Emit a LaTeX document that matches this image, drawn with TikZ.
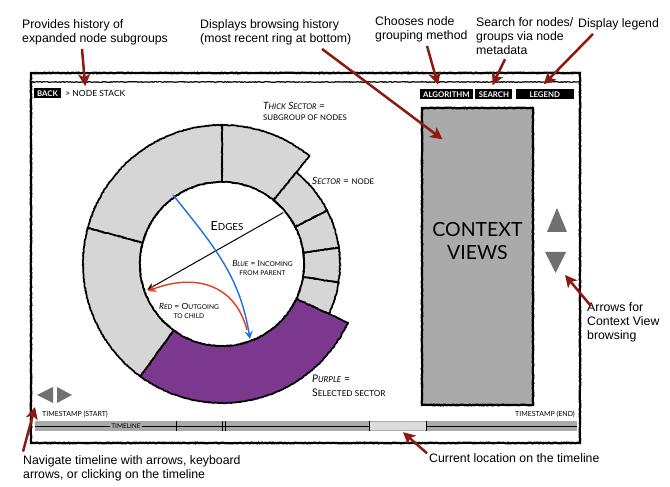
\documentclass[tikz,border=0pt]{standalone}
\usepackage{fontspec}
\setmainfont{Lato}
\newfontfamily\notefont{Liberation Sans}
\usetikzlibrary{positioning}
\usetikzlibrary{arrows.meta}
\usetikzlibrary{calc}
\usetikzlibrary{decorations.pathmorphing}
\definecolor{notered}{RGB}{139,26,18}
\definecolor{sectorgray}{RGB}{214,214,214}
\definecolor{selpurple}{RGB}{124,56,142}
\definecolor{viewgray}{RGB}{170,170,170}
\definecolor{navgray}{RGB}{112,112,112}
\definecolor{edgeblue}{RGB}{32,112,222}
\definecolor{edgered}{RGB}{232,58,30}
\definecolor{nowgray}{RGB}{220,220,220}
\newcommand{\sm}[1]{\scalebox{0.78}{#1}}

\begin{document}
\begin{tikzpicture}[x=1pt, y=1pt,
			rough/.style={decorate, decoration={random steps, segment length=1.2pt, amplitude=0.4pt}},
			frame/.style={draw, line width=2.2pt, rough},
			sector/.style={draw, line width=1.7pt, rough},
			note/.style={font=\notefont\fontsize{12.3}{14}\selectfont, align=left, inner sep=0pt, anchor=west},
			pointer/.style={->, >={Stealth[length=12pt, width=12pt, inset=3pt]}, draw=notered, line width=2.5pt},
			ringtext/.style={font=\fontsize{10}{11}\selectfont, inner sep=0pt},
			button/.style={fill=black, text=white, font=\bfseries\fontsize{7.8}{8}\selectfont, inner sep=1pt, minimum height=10pt}]
			\useasboundingbox (0,0) rectangle (670,487);
			
			\draw[frame] (31,44) rectangle (580,414);
			\draw[frame, line width=1.2pt] (31,405) -- (580,405);
			
			\node[button, minimum width=27pt](back) at (47.5,393.5) {BACK};
			\node[ringtext, font=\fontsize{8.5}{9}\selectfont, right=4pt of back](stack) {> NODE STACK};
			\node[button, minimum width=53pt](algo) at (446.5,392.5) {ALGORITHM};
			\node[button, minimum width=37pt, right=2pt of algo](search) {SEARCH};
			\node[button, minimum width=58pt, right=3pt of search](legend) {LEGEND};
			
			\draw[frame, fill=viewgray] (422,82) rectangle (533,379);
			\node[font=\fontsize{19.5}{23}\selectfont, align=center](views) at (477.5,245.5) {CONTEXT\\VIEWS};
			\fill[navgray] (547,255) -- (567,255) -- (557,279) -- cycle;
			\fill[navgray] (545,235) -- (566,235) -- (555.5,214) -- cycle;
			\coordinate (downtip) at (565,212);
			
			\coordinate (c) at (222,223);
			\foreach \a/\b/\r/\col in {51/90/139/sectorgray, 90/165/139/sectorgray, 165/234/139/sectorgray, 234/335/139/selpurple,
					335/351/118/sectorgray, 351/368/118/sectorgray, 368/387/118/sectorgray, 387/411/118/sectorgray}
				\filldraw[sector, fill=\col] ($(c)+(\a:82)$) arc[start angle=\a, end angle=\b, radius=82]
					-- ($(c)+(\b:\r)$) arc[start angle=\b, end angle=\a, radius=\r] -- cycle;
			\draw[sector, fill=white] (c) circle[radius=82];
			
			\node[ringtext, font=\fontsize{12.5}{14}\selectfont](edges) at (227,261) {E\sm{DGES}};
			\node[ringtext, align=left, anchor=west](thick) at (263,376) {\textit{T\sm{HICK} S\sm{ECTOR} =}\\\sm{SUBGROUP OF NODES}};
			\node[ringtext, anchor=west](single) at (312,306) {\textit{S\sm{ECTOR}} = \sm{NODE}};
			\node[ringtext, font=\fontsize{8.5}{9}\selectfont, align=center](bluetext) at (262.5,219) {\textit{B\sm{LUE}} = I\sm{NCOMING}\\\sm{FROM PARENT}};
			\node[ringtext, font=\fontsize{8.5}{9}\selectfont, align=center](redtext) at (189,176.5) {\textit{R\sm{ED}} = O\sm{UTGOING}\\\sm{TO CHILD}};
			\node[ringtext, font=\fontsize{10.5}{14}\selectfont, align=left, anchor=west](purpletext) at (312,101) {\textit{P\sm{URPLE}} =\\S\sm{ELECTED SECTOR}};
			
			\coordinate (e1) at ($(c)+(40:80)$);
			\coordinate (e2) at ($(c)+(199:79)$);
			\coordinate (b1) at (173,292);
			\coordinate (b2) at (250,148);
			\coordinate (r1) at (247,157);
			\coordinate (r2) at (148,196);
			\draw[line width=1pt, -{Stealth[length=7pt, width=7pt]}] (e1) -- (e2);
			\draw[edgeblue, line width=1.4pt, -{Stealth[length=8pt, width=8pt, inset=3pt]}] (b1) .. controls (215,240) and (240,210) .. (b2);
			\draw[edgered, line width=1.4pt, -{Stealth[length=8pt, width=8pt, inset=3pt]}] (r1) .. controls (235,203) and (195,214) .. (r2);
			
			\fill[navgray] (37,92) -- (53,100) -- (53,84) -- cycle;
			\fill[navgray] (57,100) -- (57,84) -- (72,92) -- cycle;
			\coordinate (navtip) at (35,80);
			
			\node[ringtext, font=\fontsize{7}{7}\selectfont, anchor=west](start) at (42,73) {TIMESTAMP (START)};
			\node[ringtext, font=\fontsize{7}{7}\selectfont, anchor=east](end) at (575,73) {TIMESTAMP (END)};
			\fill[viewgray] (35,56) rectangle (577,66);
			\node[fill=nowgray, minimum width=57pt, minimum height=8pt, inner sep=0pt](now) at (397.5,61) {};
			\node[fill=viewgray, inner sep=1pt, font=\fontsize{6.5}{7}\selectfont](tl) at (126,61) {TIMELINE};
			\draw[line width=0.9pt] (35,61) -- (tl.west) (tl.east) -- (now.west) (now.east) -- (577,61);
			\foreach \x in {176,222,225,369,426}
				\draw[line width=1pt] (\x,56) -- (\x,66);
			
			\node[note](provides) at (22,455) {Provides history of\\expanded node subgroups};
			\node[note](displays) at (200,455) {Displays browsing history\\(most recent ring at bottom)};
			\node[note](chooses) at (375,458) {Chooses node\\grouping method};
			\node[note](searchnote) at (476,450.5) {Search for nodes/\\groups via node\\metadata};
			\node[note](legendnote) at (578,463) {Display legend};
			\node[note](arrowsnote) at (587,165) {Arrows for\\Context View\\browsing};
			\node[note](current) at (429,29) {Current location on the timeline};
			\node[note](navigate) at (23,18.5) {Navigate timeline with arrows, keyboard\\arrows, or clicking on the timeline};
			
			\draw[pointer] ($(provides.south west)+(60,-4)$) -- ($(stack.north west)+(20,4)$);
			\draw[pointer] ($(displays.south west)+(122,-4)$) -- ($(views.north)+(-35,80)$);
			\draw[pointer] ($(chooses.south west)+(52,-4)$) -- ($(algo.north)+(-8.5,4.5)$);
			\draw[pointer] ($(searchnote.south west)+(29,-4)$) -- ($(search.north)+(-1.5,4)$);
			\draw[pointer] ($(legendnote.south west)+(15,-4)$) -- ($(legend.north)+(-1,5)$);
			\draw[pointer] ($(arrowsnote.north west)+(4,-4)$) -- (downtip);
			\draw[pointer] ($(current.north west)+(-2,0)$) -- ($(now.south)+(5.5,-2)$);
			\draw[pointer] ($(navigate.north west)+(0,4)$) -- (navtip);
			
		\end{tikzpicture}
\end{document}
